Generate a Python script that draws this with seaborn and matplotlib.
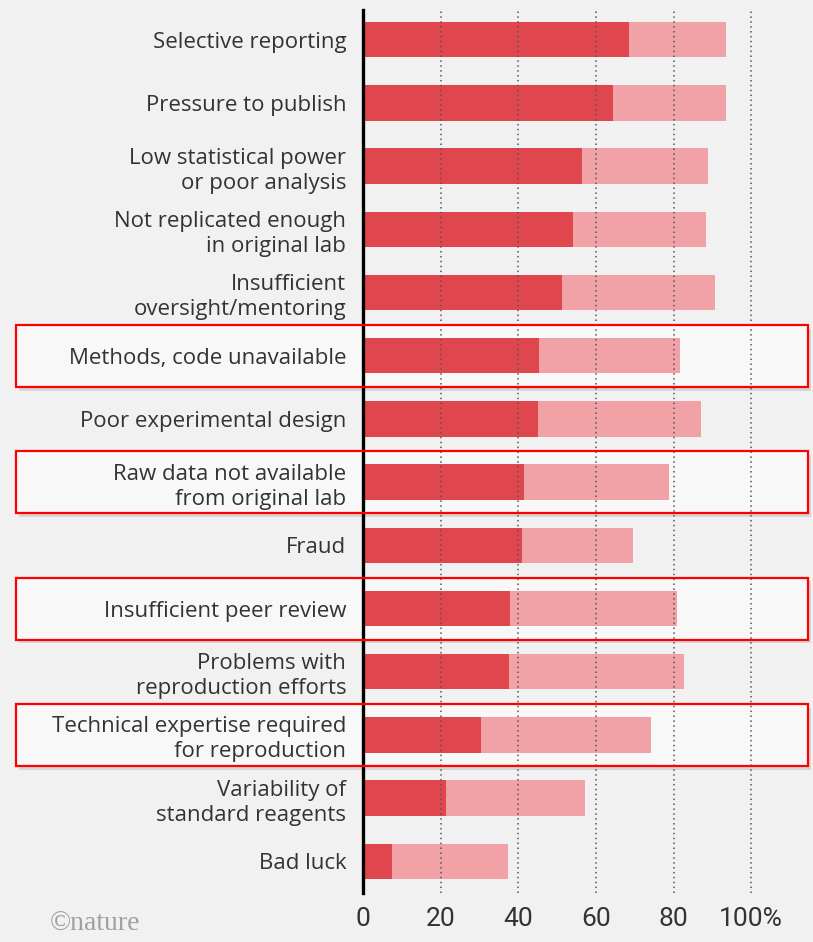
import matplotlib
matplotlib.use("Agg")
import matplotlib.pyplot as plt
import matplotlib.transforms as mtrans
from matplotlib.patches import Rectangle
import seaborn as sns
import pandas as pd
import numpy as np

categories = [
    "Selective reporting",
    "Pressure to publish",
    "Low statistical power\nor poor analysis",
    "Not replicated enough\nin original lab",
    "Insufficient\noversight/mentoring",
    "Methods, code unavailable",
    "Poor experimental design",
    "Raw data not available\nfrom original lab",
    "Fraud",
    "Insufficient peer review",
    "Problems with\nreproduction efforts",
    "Technical expertise required\nfor reproduction",
    "Variability of\nstandard reagents",
    "Bad luck",
]
# "Always/often contributes" (dark) and total incl. "sometimes contributes" (light)
often = [68.6, 64.5, 56.5, 54.2, 51.2, 45.3, 45.0, 41.6, 41.0, 37.8, 37.6, 30.5, 21.5, 7.5]
total = [93.6, 93.6, 89.0, 88.4, 90.7, 81.7, 87.0, 78.9, 69.6, 80.9, 82.6, 74.2, 57.2, 37.3]
highlighted = ["Methods, code unavailable", "Raw data not available\nfrom original lab",
               "Insufficient peer review", "Technical expertise required\nfor reproduction"]
xticks = [0, 20, 40, 60, 80, 100]
xticklabels = ["0", "20", "40", "60", "80", "100%"]

df = pd.DataFrame({"cause": categories, "often": often, "total": total})

sns.set_theme(style="white")
plt.rcParams["font.family"] = ["Open Sans", "DejaVu Sans"]

W, H = 813, 942
fig = plt.figure(figsize=(W / 100, H / 100), dpi=100)
fig.patch.set_facecolor("#f1f1f1")
ax = fig.add_axes([363 / W, (H - 893) / H, (790 - 363) / W, (893 - 10) / H])
ax.set_facecolor("none")

sns.barplot(data=df, y="cause", x="total", orient="h", color="#f0a2a6",
            saturation=1, width=0.56, linewidth=0, ax=ax, zorder=2)
sns.barplot(data=df, y="cause", x="often", orient="h", color="#e0464e",
            saturation=1, width=0.56, linewidth=0, ax=ax, zorder=3)

ax.set_xlim(0, 110)
ax.set_ylim(len(categories) - 1 + 0.28, -0.47)

for x in xticks[1:]:
    ax.axvline(x, color="#555555", lw=1.1, ls=(0, (1, 2.2)), zorder=4)

ax.set_xticks(xticks)
ax.set_xticklabels(xticklabels, fontsize=19, color="#333333",
                   family=["Roboto", "DejaVu Sans"])
ax.tick_params(axis="x", length=0, pad=10)
ax.tick_params(axis="y", which="major", length=0, pad=12)
ax.set_yticks(np.arange(len(categories)) + 0.5, minor=True)
ax.tick_params(axis="y", which="minor", length=6, width=1, color="#333333", direction="out")
for lab in ax.get_yticklabels():
    lab.set_fontsize(16)
    lab.set_color("#333333")
    lab.set_linespacing(1.25)
ax.set_xlabel("")
ax.set_ylabel("")

for s in ["top", "right", "bottom"]:
    ax.spines[s].set_visible(False)
ax.spines["left"].set_color("black")
ax.spines["left"].set_linewidth(2.4)
ax.spines["left"].set_zorder(6)

# highlight boxes
tr = mtrans.blended_transform_factory(fig.transFigure, ax.transData)
x0, x1 = 16 / W, 808 / W
for c in highlighted:
    i = categories.index(c)
    shadow = Rectangle((x0 + 3 / W, i - 0.49 + 0.06), x1 - x0, 0.98, transform=tr,
                       facecolor="#d6d6d6", edgecolor="none", zorder=0.3, clip_on=False)
    fill = Rectangle((x0, i - 0.49), x1 - x0, 0.98, transform=tr,
                     facecolor="#f8f8f8", edgecolor="none", zorder=0.5, clip_on=False)
    border = Rectangle((x0, i - 0.49), x1 - x0, 0.98, transform=tr,
                       facecolor="none", edgecolor="#ff0000", lw=1.6, zorder=7, clip_on=False)
    for p in (shadow, fill, border):
        ax.add_patch(p)

fig.text(50 / W, 5 / H, "©nature", fontsize=20, color="#a0a0a0",
         family=["Liberation Serif", "DejaVu Serif"], va="bottom", ha="left")

fig.savefig("out.png", dpi=100, facecolor=fig.get_facecolor())
